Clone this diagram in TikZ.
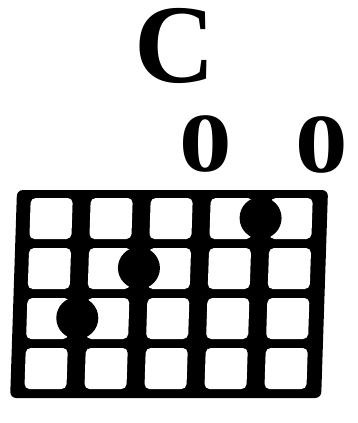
\documentclass[tikz,border=0pt]{standalone}
\usepackage{fontspec}
\setmainfont{Liberation Serif}
\usetikzlibrary{positioning}

\begin{document}
\begin{tikzpicture}[
    x=1pt, y=-1pt,
    chordname/.style={font=\fontsize{112}{112}\selectfont\bfseries, inner sep=0pt},
    openmark/.style={font=\fontsize{84}{84}\selectfont\bfseries, inner sep=0pt, xscale=1.25},
    cell/.style={fill=white, rounded corners=5pt},
    fingerdot/.style={circle, fill=black, minimum size=42pt, inner sep=0pt}
]
\useasboundingbox (0,0) rectangle (357,423);

% Labels
\node[chordname] (name) at (175,46) {C};
\node[openmark] (open3) at (206,144) {0};
\node[openmark] (open1) at (322,145) {0};

% Fretboard
\begin{scope}[shift={(0,190)}, xslant=0.033]
  \fill[rounded corners=6pt] (17,0) rectangle (328,208);
  \foreach \c in {0,...,4}
    \foreach \r in {0,...,3}
      \fill[cell] (31+60*\c, 8+50*\r) rectangle (73+60*\c, 49+50*\r);
  % Fingers
  \node[fingerdot] (fret1) at (261.5,28) {};
  \node[fingerdot] (fret2) at (141.5,78) {};
  \node[fingerdot] (fret3) at (81.5,128) {};
\end{scope}
\end{tikzpicture}
\end{document}
